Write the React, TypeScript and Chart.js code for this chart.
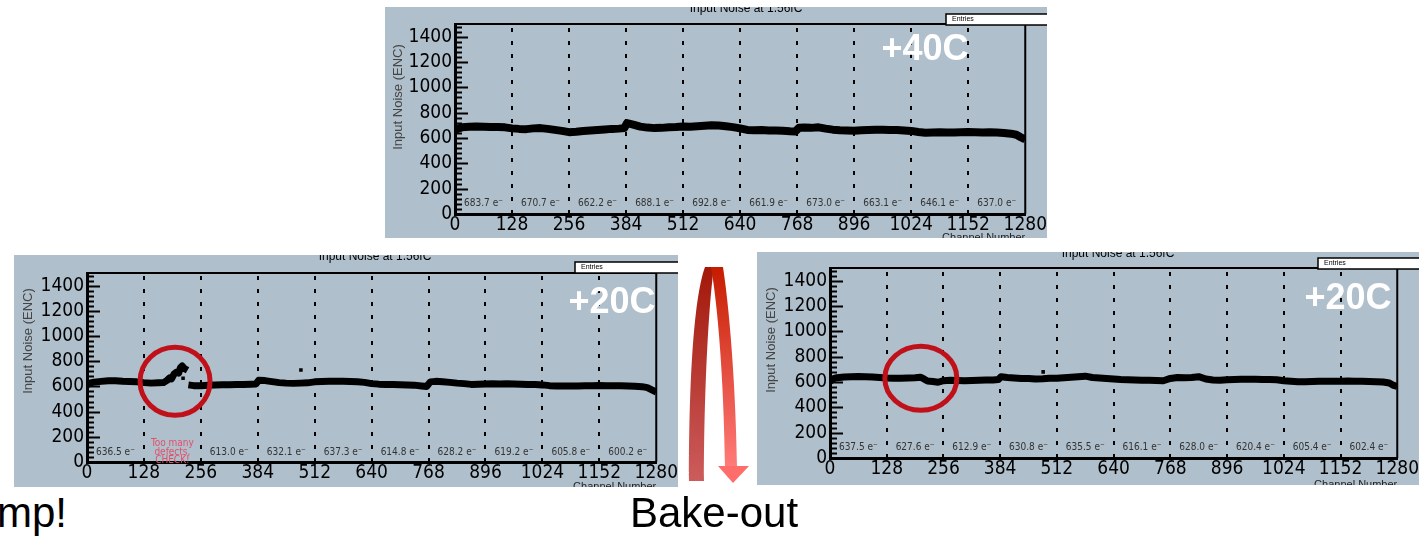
import React, { useEffect, useRef } from 'react';
import { Chart, registerables } from 'chart.js';

Chart.register(...registerables);

// ---------------- data ----------------
const X_TICKS = [0, 128, 256, 384, 512, 640, 768, 896, 1024, 1152, 1280];
const Y_TICKS = [0, 200, 400, 600, 800, 1000, 1200, 1400];
const SEGMENT_LINES = [128, 256, 384, 512, 640, 768, 896, 1024, 1152];
const SEGMENT_CENTERS = [64, 192, 320, 448, 576, 704, 832, 960, 1088, 1216];

// +40C (top)
const CH_40C = [0, 8, 16, 32, 48, 64, 80, 96, 112, 128, 144, 160, 176, 192, 208, 224, 240, 256, 272, 288, 304, 320, 336, 352, 368, 380, 386, 400, 416, 432, 448, 464, 480, 496, 512, 528, 544, 560, 576, 592, 608, 624, 640, 656, 672, 688, 704, 720, 736, 752, 764, 772, 784, 800, 816, 832, 848, 864, 880, 896, 912, 928, 944, 960, 976, 992, 1008, 1024, 1040, 1056, 1072, 1088, 1104, 1120, 1136, 1152, 1168, 1184, 1200, 1216, 1232, 1248, 1260, 1270, 1280];
const NOISE_40C = [662, 676, 684, 688, 690, 688, 686, 687, 684, 676, 672, 670, 676, 678, 672, 664, 656, 646, 650, 656, 660, 664, 668, 672, 674, 678, 718, 706, 690, 682, 678, 680, 684, 686, 690, 688, 692, 696, 700, 698, 692, 686, 676, 664, 662, 664, 660, 660, 658, 654, 652, 680, 682, 680, 684, 674, 666, 662, 660, 658, 662, 664, 666, 666, 664, 664, 660, 656, 648, 642, 644, 646, 644, 644, 646, 648, 646, 644, 646, 644, 640, 634, 626, 606, 588];
const MEAN_40C = ['683.7', '670.7', '662.2', '688.1', '692.8', '661.9', '673.0', '663.1', '646.1', '637.0'];
const OUT_X_40C: number[] = [];
const OUT_Y_40C: number[] = [];

// +20C before bake-out (bottom left)
const CH_BEFORE = [0, 8, 16, 32, 48, 64, 80, 96, 112, 128, 144, 160, 172, 180, 186, 190, 196, 202, 206, 210, 214, 218, 222, 226, 227, 228, 240, 256, 272, 288, 304, 320, 336, 352, 368, 380, 386, 400, 416, 432, 448, 464, 480, 496, 512, 528, 544, 560, 576, 592, 608, 624, 640, 656, 672, 688, 704, 720, 736, 752, 764, 772, 784, 800, 816, 832, 848, 864, 880, 896, 912, 928, 944, 960, 976, 992, 1008, 1024, 1040, 1056, 1072, 1088, 1104, 1120, 1136, 1152, 1168, 1184, 1200, 1216, 1232, 1248, 1260, 1270, 1280];
const NOISE_BEFORE: (number | null)[] = [612, 628, 634, 640, 645, 644, 640, 638, 636, 630, 626, 628, 630, 648, 668, 660, 700, 714, 705, 748, 762, 745, 736, 728, null, 612, 606, 606, 610, 612, 614, 614, 616, 616, 618, 620, 648, 646, 638, 630, 626, 624, 626, 628, 636, 638, 640, 640, 640, 638, 636, 632, 622, 618, 616, 616, 614, 612, 610, 604, 600, 636, 640, 636, 632, 626, 622, 616, 618, 620, 622, 620, 622, 620, 618, 616, 616, 612, 606, 604, 604, 604, 604, 606, 606, 608, 606, 606, 606, 604, 602, 598, 590, 572, 555];
const MEAN_BEFORE: (string | null)[] = ['636.5', null, '613.0', '632.1', '637.3', '614.8', '628.2', '619.2', '605.8', '600.2'];
const OUT_X_BEFORE = [216, 481];
const OUT_Y_BEFORE = [665, 730];
const DEFECT_NOTE = ['Too many', 'defects,', 'CHECK!'];

// +20C after bake-out (bottom right)
const CH_AFTER = [0, 8, 16, 32, 48, 64, 80, 96, 112, 128, 144, 160, 176, 192, 204, 212, 220, 232, 244, 256, 272, 288, 304, 320, 336, 352, 368, 380, 386, 400, 416, 432, 448, 464, 480, 496, 512, 528, 544, 560, 576, 592, 608, 624, 640, 656, 672, 688, 704, 720, 736, 752, 768, 784, 800, 816, 832, 848, 864, 880, 896, 912, 928, 944, 960, 976, 992, 1008, 1024, 1040, 1056, 1072, 1088, 1104, 1120, 1136, 1152, 1168, 1184, 1200, 1216, 1232, 1248, 1262, 1270, 1280];
const NOISE_AFTER = [604, 626, 634, 640, 642, 644, 642, 640, 636, 632, 630, 630, 632, 634, 638, 624, 608, 604, 598, 610, 614, 612, 610, 612, 614, 616, 616, 620, 642, 636, 632, 628, 628, 624, 626, 630, 630, 634, 638, 642, 646, 636, 632, 628, 624, 620, 618, 616, 614, 614, 612, 610, 628, 636, 634, 636, 642, 624, 616, 614, 618, 620, 622, 622, 622, 620, 620, 618, 610, 606, 602, 602, 604, 606, 606, 606, 606, 608, 606, 606, 604, 602, 600, 592, 576, 565];
const MEAN_AFTER = ['637.5', '627.6', '612.9', '630.8', '635.5', '616.1', '628.0', '620.4', '605.4', '602.4'];
const OUT_X_AFTER = [481];
const OUT_Y_AFTER = [680];

// ---------------- styles / layout ----------------
const PANEL_BG = '#afbfcb';
const NARROW = "'Liberation Sans Narrow', 'DejaVu Sans Condensed', 'Arial Narrow', sans-serif";
const SANS = "'Liberation Sans', Arial, Helvetica, sans-serif";
const Y_MAX = 1500;
const Y_MINOR = 40;
const LABEL_LEVEL = 80;

type Panel = {
  left: number; top: number; width: number; height: number;
  plot: { l: number; r: number; t: number; b: number };
  ch: number[]; noise: (number | null)[]; outX: number[]; outY: number[];
  means: (string | null)[]; temp: string; tempPos: [number, number];
  circle: null | { x: number; y: number; rx: number; ry: number };
  lineW: number; yTitle: [number, number]; boxY: number;
};

const PANELS: Panel[] = [
  {
    left: 385, top: 7, width: 662, height: 231, plot: { l: 70, r: 646, t: 17, b: 207 },
    ch: CH_40C, noise: NOISE_40C, outX: OUT_X_40C, outY: OUT_Y_40C, means: MEAN_40C,
    temp: '+40C', tempPos: [540, 43], circle: null, lineW: 8, yTitle: [13, 90], boxY: 7,
  },
  {
    left: 14, top: 255, width: 664, height: 232, plot: { l: 73, r: 648, t: 18, b: 207 },
    ch: CH_BEFORE, noise: NOISE_BEFORE, outX: OUT_X_BEFORE, outY: OUT_Y_BEFORE, means: MEAN_BEFORE,
    temp: '+20C', tempPos: [598, 48], circle: { x: 198, y: 640, rx: 35, ry: 34 }, lineW: 7, yTitle: [14, 86], boxY: 7,
  },
  {
    left: 757, top: 252, width: 662, height: 233, plot: { l: 73, r: 648, t: 16, b: 206 },
    ch: CH_AFTER, noise: NOISE_AFTER, outX: OUT_X_AFTER, outY: OUT_Y_AFTER, means: MEAN_AFTER,
    temp: '+20C', tempPos: [591, 47], circle: { x: 205, y: 629, rx: 36, ry: 32 }, lineW: 7, yTitle: [14, 88], boxY: 6,
  },
];

const decorPlugin = {
  id: 'decor',
  beforeDatasetsDraw(chart: any) {
    const { ctx, chartArea: a, scales } = chart;
    const x = scales.x, y = scales.y;
    ctx.save();
    ctx.strokeStyle = '#000';
    ctx.lineWidth = 2;
    ctx.setLineDash([4, 9]);
    SEGMENT_LINES.forEach((v) => {
      const px = Math.round(x.getPixelForValue(v));
      ctx.beginPath();
      ctx.moveTo(px, a.bottom);
      ctx.lineTo(px, a.top);
      ctx.stroke();
    });
    ctx.setLineDash([]);
    // frame top/right
    ctx.lineWidth = 2;
    ctx.beginPath();
    ctx.moveTo(a.left, a.top);
    ctx.lineTo(a.right, a.top);
    ctx.lineTo(a.right, a.bottom);
    ctx.stroke();
    // inside y ticks
    ctx.lineWidth = 2;
    for (let v = 0; v <= Y_MAX; v += Y_MINOR) {
      const py = Math.round(y.getPixelForValue(v)) + 0.5;
      const len = v % 200 === 0 ? 13 : 7;
      ctx.beginPath();
      ctx.moveTo(a.left, py);
      ctx.lineTo(a.left + len, py);
      ctx.stroke();
    }
    ctx.restore();
  },
  afterDatasetsDraw(chart: any, _a: any, opts: any) {
    const { ctx, chartArea: a, scales, width, height } = chart;
    const x = scales.x, y = scales.y;
    ctx.save();
    // segment mean labels
    ctx.textAlign = 'center';
    ctx.textBaseline = 'middle';
    const ly = y.getPixelForValue(LABEL_LEVEL);
    (opts.means as (string | null)[]).forEach((m, i) => {
      const px = x.getPixelForValue(SEGMENT_CENTERS[i]);
      ctx.font = `10px ${NARROW}`;
      if (m !== null) {
        ctx.fillStyle = '#333';
        ctx.fillText(`${m} e\u207B`, px, ly);
      } else {
        ctx.fillStyle = '#e2506a';
        DEFECT_NOTE.forEach((t, k) => ctx.fillText(t, px, ly + (k - 1) * 8.5));
      }
    });
    // temperature label
    ctx.font = `bold 36px ${SANS}`;
    ctx.fillStyle = '#ffffff';
    ctx.fillText(opts.temp, opts.tempPos[0], opts.tempPos[1]);
    // circle
    if (opts.circle) {
      const c = opts.circle;
      ctx.strokeStyle = '#c0111a';
      ctx.lineWidth = 5;
      ctx.beginPath();
      ctx.ellipse(x.getPixelForValue(c.x), y.getPixelForValue(c.y), c.rx, c.ry, 0, 0, Math.PI * 2);
      ctx.stroke();
    }
    // title (cut at top)
    ctx.font = `12px ${SANS}`;
    ctx.fillStyle = '#000';
    ctx.textBaseline = 'alphabetic';
    ctx.fillText('Input Noise at 1.56fC', 361, 5);
    // stats box
    ctx.fillStyle = '#fff';
    ctx.fillRect(561, opts.boxY, width - 561 + 4, 11);
    ctx.strokeStyle = '#000';
    ctx.lineWidth = 1.5;
    ctx.strokeRect(561, opts.boxY, width - 561 + 4, 11);
    ctx.fillStyle = '#000';
    ctx.font = `7px ${SANS}`;
    ctx.textAlign = 'left';
    ctx.textBaseline = 'middle';
    ctx.fillText('Entries', 567, opts.boxY + 5.5);
    // x title (cut at bottom)
    ctx.font = `11px ${SANS}`;
    ctx.textAlign = 'right';
    ctx.textBaseline = 'alphabetic';
    ctx.fillStyle = '#222';
    ctx.fillText('Channel Number', a.right, height + 3);
    // y title
    ctx.translate(opts.yTitle[0], opts.yTitle[1]);
    ctx.rotate(-Math.PI / 2);
    ctx.textAlign = 'center';
    ctx.textBaseline = 'middle';
    ctx.font = `13px ${SANS}`;
    ctx.fillStyle = '#454545';
    ctx.fillText('Input Noise (ENC)', 0, 0);
    ctx.restore();
  },
};

function NoisePanel({ p }: { p: Panel }) {
  const ref = useRef<HTMLCanvasElement>(null);
  useEffect(() => {
    const canvas = ref.current!;
    const chart = new Chart(canvas, {
      type: 'line',
      data: {
        datasets: [
          {
            data: p.ch.map((c, i) => ({ x: c, y: p.noise[i] })) as any,
            borderColor: '#000',
            borderWidth: p.lineW,
            pointRadius: 0,
            tension: 0,
            spanGaps: false,
            borderJoinStyle: 'round',
          },
          {
            type: 'scatter',
            data: p.outX.map((c, i) => ({ x: c, y: p.outY[i] })) as any,
            pointRadius: 2.5,
            pointStyle: 'rect',
            backgroundColor: '#000',
            borderWidth: 0,
          } as any,
        ],
      },
      options: {
        animation: false,
        responsive: false,
        maintainAspectRatio: false,
        events: [],
        layout: { padding: { left: 0, top: p.plot.t, right: p.width - p.plot.r, bottom: 0 } },
        plugins: {
          legend: { display: false },
          tooltip: { enabled: false },
          title: { display: false },
          decor: {
            means: p.means, temp: p.temp, tempPos: p.tempPos, circle: p.circle,
            yTitle: p.yTitle, boxY: p.boxY,
          },
        } as any,
        scales: {
          x: {
            type: 'linear',
            min: 0,
            max: 1280,
            afterBuildTicks: (s: any) => { s.ticks = X_TICKS.map((v) => ({ value: v })); },
            afterFit: (s: any) => { s.height = p.height - p.plot.b; },
            ticks: {
              autoSkip: false, maxRotation: 0, padding: 0, color: '#000',
              font: { family: NARROW, size: 19 },
              callback: (v: any) => String(v),
            },
            grid: { display: false, drawTicks: false },
            border: { display: true, color: '#000', width: 3 },
          },
          y: {
            type: 'linear',
            min: 0,
            max: Y_MAX,
            afterBuildTicks: (s: any) => { s.ticks = Y_TICKS.map((v) => ({ value: v })); },
            afterFit: (s: any) => { s.width = p.plot.l; },
            ticks: {
              padding: 3, color: '#000', font: { family: NARROW, size: 19 },
              callback: (v: any) => String(v),
            },
            grid: { display: false, drawTicks: false },
            border: { display: true, color: '#000', width: 3 },
          },
        },
      } as any,
      plugins: [decorPlugin],
    });
    return () => chart.destroy();
  }, [p]);
  return (
    <div
      style={{
        position: 'absolute', left: p.left, top: p.top, width: p.width, height: p.height,
        background: PANEL_BG, overflow: 'hidden',
      }}
    >
      <canvas ref={ref} width={p.width} height={p.height} style={{ display: 'block', width: p.width, height: p.height }} />
    </div>
  );
}

function CurlArrow() {
  const ox = 680, oy = 255;
  return (
    <svg
      width={80}
      height={235}
      viewBox={`${ox} ${oy} 80 235`}
      style={{ position: 'absolute', left: ox, top: oy }}
    >
      <defs>
        <linearGradient id="gl" x1="0" y1="0" x2="0" y2="1">
          <stop offset="0" stopColor="#a3180a" />
          <stop offset="1" stopColor="#cc5c5c" />
        </linearGradient>
        <linearGradient id="gr" x1="0" y1="0" x2="0" y2="1">
          <stop offset="0" stopColor="#c61c00" />
          <stop offset="1" stopColor="#ff7b79" />
        </linearGradient>
      </defs>
      <path d="M 689 481 C 689 390, 693 300, 705 267 L 714 267 C 709 300, 704 390, 704 481 Z" fill="url(#gl)" />
      <path d="M 711 267 L 723 267 C 731 320, 736 400, 737 467 L 725 467 C 724 400, 720 320, 711 267 Z" fill="url(#gr)" />
      <path d="M 718 466 L 749 466 L 733 483 Z" fill="#ff6d6b" />
    </svg>
  );
}

export default function App() {
  return (
    <div
      style={{
        position: 'fixed', left: 0, top: 0, width: 1419, height: 536, background: '#fff',
        overflow: 'hidden', fontFamily: SANS,
      }}
    >
      {PANELS.map((p, i) => <NoisePanel key={i} p={p} />)}
      <CurlArrow />
      <div style={{ position: 'absolute', left: -3, top: 492, fontSize: 42, lineHeight: 1, color: '#000', whiteSpace: 'nowrap' }}>mp!</div>
      <div style={{ position: 'absolute', left: 630, top: 492, fontSize: 42, lineHeight: 1, color: '#000', whiteSpace: 'nowrap' }}>Bake-out</div>
    </div>
  );
}
